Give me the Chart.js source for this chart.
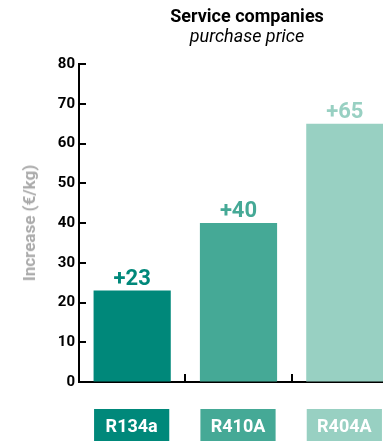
<!DOCTYPE html>
<html>
<head>
<meta charset="utf-8">
<script src="https://cdn.jsdelivr.net/npm/chart.js@4/dist/chart.umd.min.js"></script>
<style>
  html, body { margin: 0; padding: 0; background: #fff; overflow: hidden; }
  #wrap { position: relative; width: 383px; height: 441px; overflow: hidden; }
  #chart { position: absolute; left: 0; top: 0; }
  .ttl { position: absolute; left: 147px; width: 200px; text-align: center; font-family: Roboto, sans-serif; font-size: 18px; color: #000; }
  #ytitle { position: absolute; left: 29px; top: 223px; width: 0; height: 0; }
  #ytitle span { position: absolute; left: 0; top: 0; transform: translate(-50%, -50%) rotate(-90deg); white-space: nowrap;
    font-family: Roboto, sans-serif; font-weight: bold; font-size: 17px; color: #aaaaaa; }
</style>
</head>
<body>
<div id="wrap">
  <canvas id="chart" width="398" height="441"></canvas>
  <div class="ttl" style="top:5px;font-weight:bold;">Service companies</div>
  <div class="ttl" style="top:25px;font-style:italic;">purchase price</div>
  <div id="ytitle"><span>Increase (€/kg)</span></div>
</div>
<script>
var categories = ['R134a', 'R410A', 'R404A'];
var values = [23, 40, 65];
var valueLabels = ['+23', '+40', '+65'];
var barColors = ['#00887a', '#45a996', '#98d0c2'];
var yTicks = [0, 10, 20, 30, 40, 50, 60, 70, 80];

// value labels, inside ticks and category boxes
var decorations = {
  id: 'decorations',
  afterDraw: function(chart) {
    var ctx = chart.ctx;
    var x = chart.scales.x, y = chart.scales.y;
    var meta = chart.getDatasetMeta(0);
    ctx.save();
    ctx.strokeStyle = '#000';
    ctx.lineWidth = 2;
    // y ticks pointing into the plot
    yTicks.forEach(function(v) {
      var py = Math.round(y.getPixelForValue(v));
      ctx.beginPath();
      ctx.moveTo(x.left, py);
      ctx.lineTo(x.left + 7, py);
      ctx.stroke();
    });
    // x ticks between categories
    for (var i = 0; i < categories.length - 1; i++) {
      var px = Math.round((x.getPixelForValue(i) + x.getPixelForValue(i + 1)) / 2);
      ctx.beginPath();
      ctx.moveTo(px, y.bottom);
      ctx.lineTo(px, y.bottom - 8);
      ctx.stroke();
    }
    meta.data.forEach(function(bar, i) {
      ctx.fillStyle = barColors[i];
      ctx.font = 'bold 22px Roboto';
      ctx.textAlign = 'center';
      ctx.textBaseline = 'alphabetic';
      ctx.fillText(valueLabels[i], bar.x, bar.y - 6);
      var w = bar.width - 2;
      ctx.fillRect(bar.x - w / 2 - 0.5, y.bottom + 27, w, 40);
      ctx.fillStyle = '#fff';
      ctx.font = 'bold 18px Roboto';
      ctx.textBaseline = 'middle';
      ctx.fillText(categories[i], bar.x - 0.5, y.bottom + 45);
    });
    ctx.restore();
  }
};

new Chart(document.getElementById('chart'), {
  type: 'bar',
  data: {
    labels: categories,
    datasets: [{
      data: values,
      backgroundColor: barColors,
      categoryPercentage: 1,
      barPercentage: 0.726
    }]
  },
  options: {
    responsive: false,
    animation: false,
    layout: { padding: { top: 64, bottom: 59, left: 0, right: 0 } },
    plugins: { legend: { display: false }, tooltip: { enabled: false } },
    scales: {
      x: {
        grid: { display: false, drawTicks: false },
        border: { display: true, color: '#000', width: 2 },
        ticks: { display: false }
      },
      y: {
        min: 0,
        max: 80,
        afterBuildTicks: function(scale) {
          scale.ticks = yTicks.map(function(v) { return { value: v }; });
        },
        afterFit: function(scale) { scale.width = 79; },
        grid: { drawOnChartArea: false, drawTicks: false },
        border: { display: true, color: '#000', width: 2 },
        ticks: {
          padding: 4,
          color: '#000',
          font: { family: 'Roboto', weight: 'bold', size: 15 }
        }
      }
    }
  },
  plugins: [decorations]
});
</script>
</body>
</html>
